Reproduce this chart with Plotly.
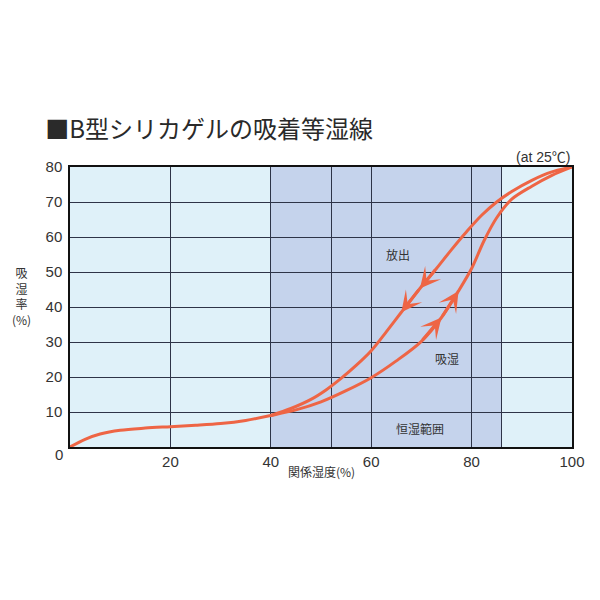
"""B型シリカゲルの吸着等湿線 (adsorption / desorption isotherm)."""

import plotly.graph_objects as go

# adsorption branch (吸湿), in direction of travel
ADS_X = [0, 3, 6, 10, 15, 20, 25, 30, 35, 40, 45, 50, 55, 60, 65, 70, 74, 77.4, 80, 82.5, 85, 88, 92, 96, 100]
ADS_Y = [0, 2.2, 3.7, 4.8, 5.4, 5.8, 6.2, 6.7, 7.6, 9, 10.6, 12.9, 16.1, 19.8, 24.6, 30.2, 37, 44.6, 51, 59, 65.5, 70.8, 74.5, 77.6, 80]
ADS_ARROWS = [74, 77.4]

# desorption branch (放出), from high to low humidity
DES_X = [100, 96, 92, 88, 85, 82, 79, 76, 73, 69.7, 66, 63, 60, 57, 54, 51, 48, 44, 40]
DES_Y = [80, 78.6, 76.2, 73, 70, 66.2, 61.5, 56.4, 51, 45.3, 38.5, 32.9, 27.5, 23.3, 19.6, 16.3, 13.6, 11, 9]
DES_ARROWS = [69.7, 66]

X_GRID = [0, 20, 40, 52, 60, 80, 86, 100]
X_TICKTEXT = ["", "20", "40", "", "60", "80", "", "100"]
Y_GRID = [10, 20, 30, 40, 50, 60, 70, 80]
BAND = (40, 86)

LABELS = [("放出", 65.3, 55), ("吸湿", 75.1, 25.4), ("恒湿範囲", 69.7, 5.4)]

LINE_COLOR = "#ee6545"
TEXT_COLOR = "#333333"
CJK = "Noto Sans CJK JP"
LATIN = "Liberation Sans, Noto Sans CJK JP"


def branch(xs, ys):
    return go.Scatter(
        x=xs,
        y=ys,
        mode="lines",
        line=dict(color=LINE_COLOR, width=3, shape="spline", smoothing=0.9),
        hoverinfo="skip",
        showlegend=False,
    )


def add_arrows(fig, xs, ys, tips):
    # arrowhead at each tip, pointing from the previous point of the branch
    for tip in tips:
        i = xs.index(tip)
        fig.add_annotation(
            x=xs[i], y=ys[i], ax=xs[i - 1], ay=ys[i - 1],
            xref="x", yref="y", axref="x", ayref="y",
            text="", showarrow=True, arrowhead=3, arrowsize=1.15, arrowwidth=3,
            arrowcolor=LINE_COLOR, standoff=0,
        )


fig = go.Figure()
fig.add_trace(branch(ADS_X, ADS_Y))
fig.add_trace(branch(DES_X, DES_Y))
add_arrows(fig, ADS_X, ADS_Y, ADS_ARROWS)
add_arrows(fig, DES_X, DES_Y, DES_ARROWS)

fig.add_shape(
    type="rect", xref="x", yref="y", x0=BAND[0], x1=BAND[1], y0=0, y1=80,
    fillcolor="#c5d3ec", line_width=0, layer="below",
)

for text, x, y in LABELS:
    fig.add_annotation(x=x, y=y, text=text, showarrow=False, font=dict(family=CJK, size=12, color=TEXT_COLOR))

fig.add_annotation(x=0, y=0, xref="x", yref="y", text="0", showarrow=False, xanchor="right",
                   xshift=-5, yshift=-7, font=dict(family=LATIN, size=15, color=TEXT_COLOR))
fig.add_annotation(x=1, y=1, xref="paper", yref="paper", text="(at 25℃)", showarrow=False,
                   xanchor="right", yanchor="bottom", yshift=0, font=dict(family=LATIN, size=14, color=TEXT_COLOR))
fig.add_annotation(x=-0.096, y=0.54, xref="paper", yref="paper", text="吸<br>湿<br>率<br>(%)",
                   xanchor="center", yanchor="middle", showarrow=False, align="center",
                   font=dict(family=CJK, size=12, color=TEXT_COLOR))
fig.add_annotation(x=0.5, y=-0.05, xref="paper", yref="paper", text="関係湿度(%)", showarrow=False,
                   xanchor="center", yanchor="top", font=dict(family=CJK, size=12, color=TEXT_COLOR))

fig.update_layout(
    width=600,
    height=600,
    margin=dict(l=62, r=36, t=159, b=161),
    paper_bgcolor="white",
    plot_bgcolor="#dff1f9",
    font=dict(family=CJK, color=TEXT_COLOR),
    title=dict(text="■B型シリカゲルの吸着等湿線", x=0.062, xanchor="left", y=0.797, yanchor="middle",
               font=dict(family=CJK, size=24, color="#2a2a2a")),
)
fig.update_xaxes(
    range=[0, 100], tickvals=X_GRID, ticktext=X_TICKTEXT, showgrid=True, gridcolor="#2e3448", gridwidth=1,
    showline=True, linecolor="#111111", linewidth=1.5, mirror=True, zeroline=False,
    ticks="", tickfont=dict(family=LATIN, size=15, color=TEXT_COLOR), ticklabelstandoff=0,
)
fig.update_yaxes(
    range=[0, 80], tickvals=Y_GRID, showgrid=True, gridcolor="#2e3448", gridwidth=1,
    showline=True, linecolor="#111111", linewidth=1.5, mirror=True, zeroline=False,
    ticks="", tickfont=dict(family=LATIN, size=15, color=TEXT_COLOR), ticklabelstandoff=3,
)

fig.write_html("out.html")
